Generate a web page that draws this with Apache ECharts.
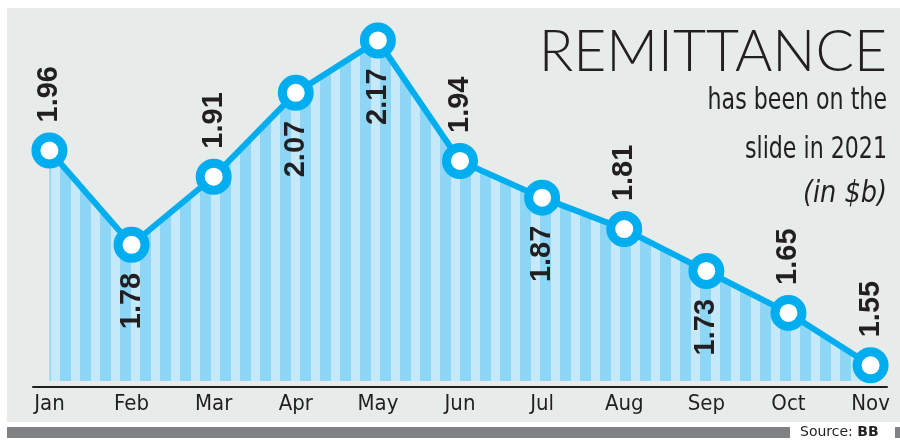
<!DOCTYPE html>
<html>
<head>
<meta charset="utf-8">
<title>Remittance</title>
<script src="https://cdn.jsdelivr.net/npm/echarts@6.0.0/dist/echarts.min.js"></script>
<style>
html, body { margin: 0; padding: 0; background: #fff; }
#chart { width: 900px; height: 443px; }
</style>
</head>
<body>
<div id="chart"></div>
<script>
'use strict';
// values, in $ billion
let months = ['Jan', 'Feb', 'Mar', 'Apr', 'May', 'Jun', 'Jul', 'Aug', 'Sep', 'Oct', 'Nov'];
let remittance = [1.96, 1.78, 1.91, 2.07, 2.17, 1.94, 1.87, 1.81, 1.73, 1.65, 1.55];
// which side of the marker the value label goes
let labelSide = ['top', 'bottom', 'top', 'bottom', 'bottom', 'top', 'bottom', 'top', 'bottom', 'top', 'top'];

let textColor = '#231f20';
let blue = '#00aeef';
let narrow = "'Liberation Sans Narrow', 'DejaVu Sans Condensed', sans-serif";

// 竖条纹填充
function stripePattern() {
    let c = document.createElement('canvas');
    c.width = 20;
    c.height = 20;
    let ctx = c.getContext('2d');
    ctx.fillStyle = '#c6e9f9';
    ctx.fillRect(0, 0, 20, 20);
    ctx.fillStyle = '#8ed6f6';
    ctx.fillRect(0, 0, 11, 20);
    return c;
}

// 右对齐的标题文字，横向压缩一点模拟窄体字
function titleText(text, y, scaleX, italic) {
    return {
        type: 'text', x: 887, y: y, scaleX: scaleX, silent: true,
        style: {
            text: text,
            textAlign: 'right',
            textVerticalAlign: 'middle',
            fontSize: 30,
            fontStyle: italic ? 'italic' : 'normal',
            fontFamily: narrow,
            fill: textColor,
        },
    };
}

let seriesData = remittance.map(function(v, i) {
    let top = labelSide[i] === 'top';
    return {
        value: [i, v],
        label: {
            position: top ? 'top' : 'bottom',
            align: top ? 'left' : 'right',
        },
    };
});

let myChart = echarts.init(document.getElementById('chart'), null, {renderer: 'canvas'});
let option = {
    animation: false,
    grid: {
        left: 33,
        right: 13,
        top: 30,
        bottom: 62,
    },
    xAxis: {
        type: 'value',
        min: -0.2,
        max: 10.2,
        offset: 6,
        splitLine: {show: false},
        axisTick: {show: false},
        axisLine: {
            show: true,
            onZero: false,
            lineStyle: {color: textColor, width: 2},
        },
        axisLabel: {
            customValues: months.map(function(m, i) {
                return i;
            }),
            formatter: function(v) {
                return months[v];
            },
            margin: 6,
            fontSize: 22,
            fontFamily: narrow,
            color: textColor,
        },
    },
    yAxis: {
        type: 'value',
        min: 1.52,
        max: 2.19,
        show: false,
    },
    series: [{
        type: 'line',
        data: seriesData,
        symbol: 'circle',
        symbolSize: 27,
        lineStyle: {color: blue, width: 6},
        itemStyle: {color: '#fff', borderColor: blue, borderWidth: 9},
        areaStyle: {
            color: {image: stripePattern(), repeat: 'repeat'},
            opacity: 1,
        },
        label: {
            show: true,
            rotate: 90,
            distance: 10,
            verticalAlign: 'middle',
            fontSize: 29,
            fontWeight: 'bold',
            fontFamily: "'Liberation Sans', Arial, sans-serif",
            color: textColor,
            formatter: function(p) {
                return p.value[1].toFixed(2);
            },
        },
    }],
    graphic: [
        {
            type: 'rect', z: -100, silent: true,
            shape: {x: 7, y: 8, width: 893, height: 414},
            style: {fill: '#e7ebea'},
        },
        {
            type: 'rect', z: -100, silent: true,
            shape: {x: 7, y: 427, width: 783, height: 11},
            style: {fill: '#808184'},
        },
        {
            type: 'rect', z: -100, silent: true,
            shape: {x: 895, y: 427, width: 5, height: 11},
            style: {fill: '#808184'},
        },
        {
            type: 'text', x: 800, y: 432, silent: true,
            style: {
                text: '{a|Source: }{b|BB}',
                textVerticalAlign: 'middle',
                rich: {
                    a: {fontSize: 14, fontFamily: 'DejaVu Sans', fill: textColor},
                    b: {fontSize: 14, fontFamily: 'DejaVu Sans', fontWeight: 'bold', fill: textColor},
                },
            },
        },
        {
            type: 'text', x: 887, y: 53, silent: true,
            style: {
                text: 'REMITTANCE',
                textAlign: 'right',
                textVerticalAlign: 'middle',
                font: "300 57px Lato, 'Open Sans', sans-serif",
                fill: textColor,
            },
        },
        titleText('has been on the', 101, 0.82, false),
        titleText('slide in 2021', 150, 0.82, false),
        titleText('(in $b)', 194, 0.95, true),
    ],
};
myChart.setOption(option);
</script>
</body>
</html>
